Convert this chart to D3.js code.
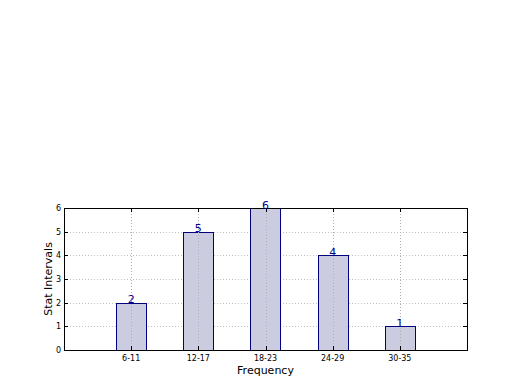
<!DOCTYPE html>
<html>
<head>
<meta charset="utf-8">
<script src="https://cdn.jsdelivr.net/npm/d3@7"></script>
<style>
  body { margin: 0; background: #fff; }
  svg { font-family: "DejaVu Sans", sans-serif; }
  .tick-label { font-size: 8px; fill: #000; }
  .axis-label { font-size: 11px; fill: #000; }
  .bar-label { font-size: 11px; fill: #00008b; }
</style>
</head>
<body>
<svg id="chart" width="520" height="390"></svg>
<script>
var categories = ["6-11", "12-17", "18-23", "24-29", "30-35"];
var counts = [2, 5, 6, 4, 1];
var y_ticks = [0, 1, 2, 3, 4, 5, 6];

var svg = d3.select("#chart");
var plot_left = 64, plot_right = 467, plot_top = 208, plot_bottom = 350;

var x = d3.scaleLinear().domain([0, 6]).range([plot_left, plot_right]);
var y = d3.scaleLinear().domain([0, 6]).range([plot_bottom, plot_top]);
var bar_w = x(0.45) - x(0);

// horizontal grid
svg.append("g").selectAll("line")
    .data(y_ticks.slice(1, -1))
    .enter().append("line")
    .attr("x1", plot_left).attr("x2", plot_right)
    .attr("y1", function (d) { return Math.round(y(d)) + 0.5; })
    .attr("y2", function (d) { return Math.round(y(d)) + 0.5; })
    .attr("stroke", "#c0c0c0").attr("stroke-dasharray", "1,2");

// bars
svg.append("g").selectAll("rect")
    .data(counts)
    .enter().append("rect")
    .attr("x", function (d, i) { return Math.round(x(i + 1) - bar_w / 2) + 0.5; })
    .attr("y", function (d) { return Math.round(y(d)) + 0.5; })
    .attr("width", Math.round(bar_w))
    .attr("height", function (d) { return Math.round(y(0)) - Math.round(y(d)); })
    .attr("fill", "#cccce0")
    .attr("stroke", "#000080")
    .attr("stroke-width", 1);

// vertical grid drawn over bars
svg.append("g").selectAll("line")
    .data(categories)
    .enter().append("line")
    .attr("x1", function (d, i) { return Math.round(x(i + 1)) + 0.5; })
    .attr("x2", function (d, i) { return Math.round(x(i + 1)) + 0.5; })
    .attr("y1", plot_top).attr("y2", plot_bottom)
    .attr("stroke", "#b0b0b0").attr("stroke-dasharray", "1,2");

// frame
svg.append("rect")
    .attr("x", plot_left + 0.5).attr("y", plot_top + 0.5)
    .attr("width", plot_right - plot_left).attr("height", plot_bottom - plot_top)
    .attr("fill", "none").attr("stroke", "#000").attr("stroke-width", 1);

// y ticks (inward, both sides)
var yt = svg.append("g");
y_ticks.forEach(function (t) {
    var py = Math.round(y(t)) + 0.5;
    yt.append("line").attr("x1", plot_left).attr("x2", plot_left + 4)
        .attr("y1", py).attr("y2", py).attr("stroke", "#000");
    yt.append("line").attr("x1", plot_right - 4).attr("x2", plot_right)
        .attr("y1", py).attr("y2", py).attr("stroke", "#000");
    yt.append("text").attr("class", "tick-label")
        .attr("x", plot_left - 3).attr("y", y(t) + 3)
        .attr("text-anchor", "end").text(t);
});

// x ticks
var xt = svg.append("g");
categories.forEach(function (c, i) {
    var px = Math.round(x(i + 1)) + 0.5;
    xt.append("line").attr("x1", px).attr("x2", px)
        .attr("y1", plot_bottom).attr("y2", plot_bottom - 4).attr("stroke", "#000");
    xt.append("line").attr("x1", px).attr("x2", px)
        .attr("y1", plot_top).attr("y2", plot_top + 4).attr("stroke", "#000");
    xt.append("text").attr("class", "tick-label")
        .attr("x", x(i + 1)).attr("y", plot_bottom + 11)
        .attr("text-anchor", "middle").text(c);
});

// value labels
svg.append("g").selectAll("text")
    .data(counts)
    .enter().append("text")
    .attr("class", "bar-label")
    .attr("x", function (d, i) { return x(i + 1); })
    .attr("y", function (d) { return y(d) + 0.5; })
    .attr("text-anchor", "middle")
    .text(function (d) { return d; });

// axis labels
svg.append("text").attr("class", "axis-label")
    .attr("x", (plot_left + plot_right) / 2).attr("y", 374)
    .attr("text-anchor", "middle").text("Frequency");
svg.append("text").attr("class", "axis-label")
    .attr("transform", "translate(52," + (plot_top + plot_bottom) / 2 + ") rotate(-90)")
    .attr("text-anchor", "middle").text("Stat Intervals");
</script>
</body>
</html>
